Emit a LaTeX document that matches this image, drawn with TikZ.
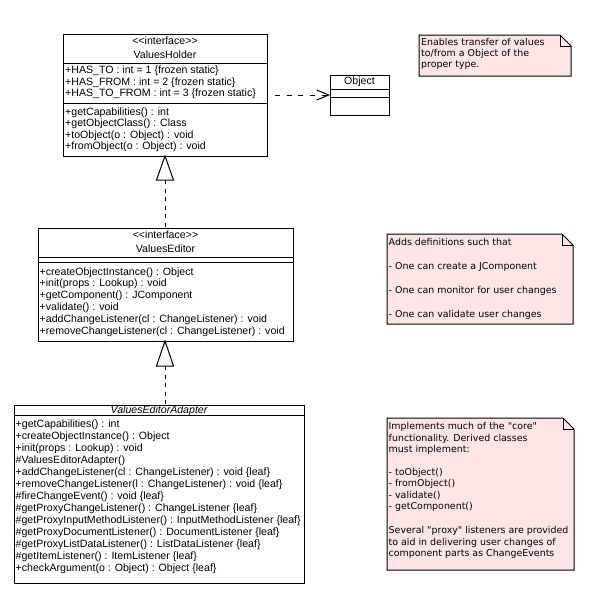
\documentclass[tikz,border=0pt]{standalone}
\usepackage{fontspec}
\setmainfont{Liberation Sans}
\newfontfamily\notefont{DejaVu Sans}
\usetikzlibrary{arrows.meta}
\definecolor{notepink}{RGB}{255,230,230}
\tikzset{
  box/.style={draw=black, fill=white, line width=1pt, rectangle, inner sep=0pt, outer sep=0pt},
  ln/.style={line width=1pt},
  ctxt/.style={font=\fontsize{10.6}{12}\selectfont, inner sep=0pt, anchor=base west},
  ctitle/.style={font=\fontsize{10.6}{12}\selectfont, inner sep=0pt, anchor=base},
  ntxt/.style={font=\notefont\fontsize{9.45}{11}\selectfont, inner sep=0pt, anchor=base west},
  notebox/.style={draw=black, fill=notepink, line width=1pt},
  realize/.style={line width=1pt, dash pattern=on 4pt off 4.5pt},
  depend/.style={line width=1pt, dash pattern=on 5pt off 6.7pt, -{Straight Barb[length=12pt,width=10pt]}},
  tri/.style={draw=black, fill=white, line width=1pt, line join=miter},
}
\newcommand\drawnote[4]{%
  \draw[notebox] (#1,#2) -- ({#3-11},#2) -- (#3,{#2+11}) -- (#3,#4) -- (#1,#4) -- cycle;
  \draw[ln] ({#3-11},#2) -- ({#3-11},{#2+11}) -- (#3,{#2+11});
}
\begin{document}
\begin{tikzpicture}[x=1pt,y=-1pt]
\fill[white] (0,0) rectangle (593,589);
\useasboundingbox (0,0) rectangle (593,589);

% ---------- ValuesHolder ----------
\node[box, minimum width=204pt, minimum height=122pt] (vh) at (165,95) {};
\draw[ln] (63,63) -- (267,63);
\draw[ln] (63,103) -- (267,103);
\node[ctitle] (vhst) at (165,44) {<{}<interface>{}>};
\node[ctitle] (vhname) at (165,58) {ValuesHolder};
\foreach [count=\i] \t in {{+HAS\_TO : int = 1 \{frozen static\}},
  {+HAS\_FROM : int = 2 \{frozen static\}},
  {+HAS\_TO\_FROM : int = 3 \{frozen static\}}}
  \node[ctxt] (vha\i) at (65,{73.3+11.7*(\i-1)}) {\t};
\foreach [count=\i] \t in {{+getCapabilities() : int},
  {+getObjectClass() : Class},
  {+toObject(o : Object) : void},
  {+fromObject(o : Object) : void}}
  \node[ctxt] (vhm\i) at (65,{115+11.5*(\i-1)}) {\t};

% ---------- Object ----------
\node[box, minimum width=59pt, minimum height=40pt] (obj) at (359.5,95) {};
\draw[ln] (330,89) -- (389,89);
\draw[ln] (330,97) -- (389,97);
\node[ctitle] (objname) at (359.5,84.5) {Object};

% ---------- ValuesEditor ----------
\node[box, minimum width=255pt, minimum height=113pt] (ve) at (165.5,284.5) {};
\draw[ln] (38,257) -- (293,257);
\draw[ln] (38,262) -- (293,262);
\node[ctitle] (vest) at (165.5,238.5) {<{}<interface>{}>};
\node[ctitle] (vename) at (165.5,252) {ValuesEditor};
\foreach [count=\i] \t in {{+createObjectInstance() : Object},
  {+init(props : Lookup) : void},
  {+getComponent() : JComponent},
  {+validate() : void},
  {+addChangeListener(cl : ChangeListener) : void},
  {+removeChangeListener(cl : ChangeListener) : void}}
  \node[ctxt] (vem\i) at (39.5,{275+11.86*(\i-1)}) {\t};

% ---------- ValuesEditorAdapter ----------
\node[box, minimum width=290pt, minimum height=178pt] (vea) at (159,494) {};
\draw[ln] (14,415.5) -- (304,415.5);
\node[ctitle, font=\fontsize{10.6}{12}\selectfont\itshape] (veaname) at (159,413.5) {ValuesEditorAdapter};
\foreach [count=\i] \t in {{+getCapabilities() : int},
  {+createObjectInstance() : Object},
  {+init(props : Lookup) : void},
  {\#ValuesEditorAdapter()},
  {+addChangeListener(cl : ChangeListener) : void \{leaf\}},
  {+removeChangeListener(l : ChangeListener) : void \{leaf\}},
  {\#fireChangeEvent() : void \{leaf\}},
  {\#getProxyChangeListener() : ChangeListener \{leaf\}},
  {\#getProxyInputMethodListener() : InputMethodListener \{leaf\}},
  {\#getProxyDocumentListener() : DocumentListener \{leaf\}},
  {\#getProxyListDataListener() : ListDataListener \{leaf\}},
  {\#getItemListener() : ItemListener \{leaf\}},
  {+checkArgument(o : Object) : Object \{leaf\}}}
  \node[ctxt] (veam\i) at (15.5,{427.5+12.0*(\i-1)}) {\t};

% ---------- connectors ----------
\draw[depend, shorten <=8pt] (vh.east |- obj.west) -- (obj.west);

\coordinate (t1) at (165,180);
\coordinate (t2) at (165,366);
\draw[realize] (t1) -- (ve.north -| t1);
\draw[tri] ([xshift=-8.5pt]t1) -- (vh.south -| t1) -- ([xshift=8.5pt]t1) -- cycle;
\draw[realize] (t2) -- (vea.north -| t2);
\draw[tri] ([xshift=-8.5pt]t2) -- (ve.south -| t2) -- ([xshift=8.5pt]t2) -- cycle;

% ---------- notes ----------
\drawnote{419}{35}{571}{76}
\node[ntxt] (n1a) at (421,45) {Enables transfer of values};
\node[ntxt] (n1b) at (421,56) {to/from a Object of the};
\node[ntxt] (n1c) at (421,67) {proper type.};

\drawnote{387}{234}{573}{324}
\node[ntxt] (n2a) at (388.5,245.5) {Adds definitions such that};
\node[ntxt] (n2b) at (388.5,269.5) {- One can create a JComponent};
\node[ntxt] (n2c) at (388.5,293) {- One can monitor for user changes};
\node[ntxt] (n2d) at (388.5,317) {- One can validate user changes};

\drawnote{387}{418}{574}{570}
\node[ntxt] (n3a) at (388.5,429.5) {Implements much of the "core"};
\node[ntxt] (n3b) at (388.5,441) {functionality. Derived classes};
\node[ntxt] (n3c) at (388.5,452) {must implement:};
\node[ntxt] (n3d) at (388.5,475.5) {- toObject()};
\node[ntxt] (n3e) at (388.5,486.5) {- fromObject()};
\node[ntxt] (n3f) at (388.5,498) {- validate()};
\node[ntxt] (n3g) at (388.5,509.5) {- getComponent()};
\node[ntxt] (n3h) at (388.5,533.5) {Several "proxy" listeners are provided};
\node[ntxt] (n3i) at (388.5,545) {to aid in delivering user changes of};
\node[ntxt] (n3j) at (388.5,556) {component parts as ChangeEvents};
\end{tikzpicture}
\end{document}
